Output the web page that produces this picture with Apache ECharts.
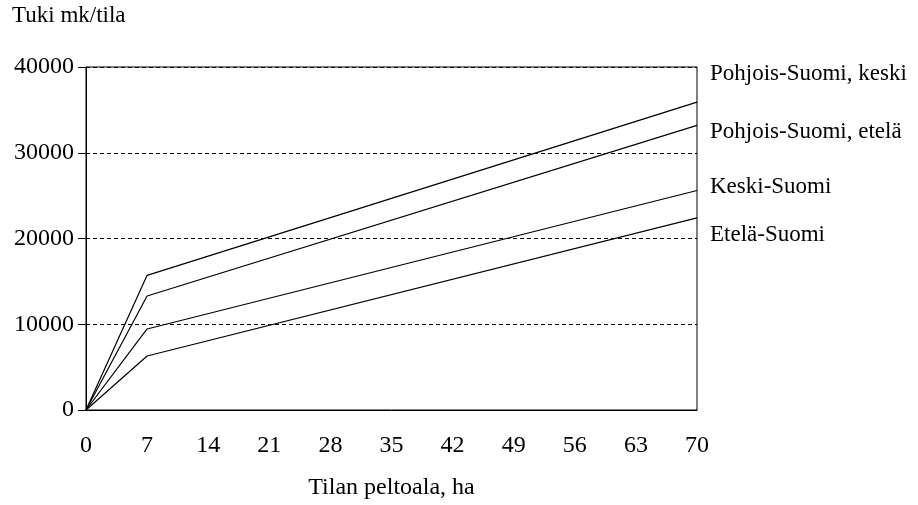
<!DOCTYPE html>
<html>
<head>
<meta charset="utf-8">
<script src="https://cdn.jsdelivr.net/npm/echarts@6/dist/echarts.min.js"></script>
<style>
html,body{margin:0;padding:0;background:#fff;}
#c{width:918px;height:505px;}
</style>
</head>
<body>
<div id="c"></div>
<script>
// Data
var xPoints = [0, 7, 70];
var seriesNames = ['Pohjois-Suomi, keski', 'Pohjois-Suomi, etelä', 'Keski-Suomi', 'Etelä-Suomi'];
var pohjoisKeski = [0, 15700, 35900];
var pohjoisEtela = [0, 13300, 33200];
var keskiSuomi = [0, 9450, 25600];
var etelaSuomi = [0, 6300, 22400];
var yTitle = 'Tuki mk/tila';
var xTitle = 'Tilan peltoala, ha';

var allValues = [pohjoisKeski, pohjoisEtela, keskiSuomi, etelaSuomi];
var FONT = '"Liberation Serif", "DejaVu Serif", serif';

var chart = echarts.init(document.getElementById('c'));
var labelY = [75, 133, 188, 236];

var option = {
  backgroundColor: '#fff',
  animation: false,
  textStyle: { fontFamily: FONT, color: '#000' },
  grid: { left: 86, right: 221, top: 67, bottom: 95, show: true, borderColor: '#000', borderWidth: 1,
          containLabel: false, outerBoundsMode: 'none' },
  xAxis: {
    type: 'value', min: 0, max: 70, interval: 7,
    name: xTitle, nameLocation: 'middle', nameGap: 66,
    nameTextStyle: { fontFamily: FONT, fontSize: 24, color: '#000' },
    axisLine: { show: true, lineStyle: { color: '#000', width: 1 } },
    axisTick: { show: false },
    axisLabel: { fontFamily: FONT, fontSize: 24, color: '#000', margin: 24 },
    splitLine: { show: false }
  },
  yAxis: {
    type: 'value', min: 0, max: 40000, interval: 10000,
    axisLine: { show: true, lineStyle: { color: '#000', width: 1 } },
    axisTick: { show: true, length: 8, lineStyle: { color: '#000' } },
    axisLabel: { fontFamily: FONT, fontSize: 24, color: '#000', margin: 12,
                 formatter: function (v) { return String(v); } },
    splitLine: { show: true, lineStyle: { color: '#000', width: 1, type: [4, 3] } }
  },
  graphic: [{
    type: 'text', left: 12, top: 4,
    style: { text: yTitle, font: '23px ' + FONT, fill: '#000' }
  }].concat(seriesNames.map(function (n, i) {
    return {
      type: 'text', left: 710, top: labelY[i] - 13,
      style: { text: n, font: '23px ' + FONT, fill: '#000' }
    };
  })),
  series: seriesNames.map(function (n, i) {
    return {
      name: n, type: 'line', showSymbol: false, symbol: 'none',
      lineStyle: { color: '#000', width: 1.2 },
      data: xPoints.map(function (x, j) { return [x, allValues[i][j]]; })
    };
  })
};
chart.setOption(option);
</script>
</body>
</html>
